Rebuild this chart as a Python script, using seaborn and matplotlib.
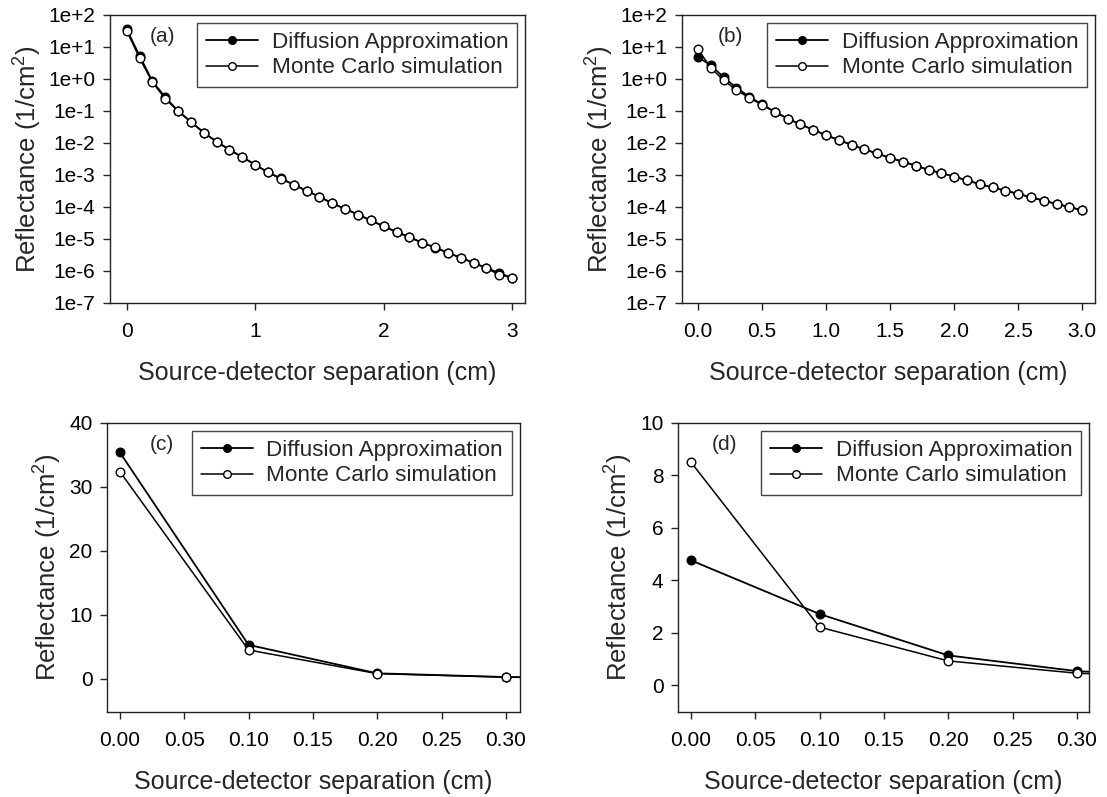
import numpy as np
import pandas as pd
import matplotlib
matplotlib.use("Agg")
import matplotlib.pyplot as plt
from matplotlib.ticker import FixedLocator, FixedFormatter, NullLocator
import seaborn as sns

# ---------------- data ----------------
sep = [round(0.1 * i, 1) for i in range(31)]  # source-detector separation (cm)

# Panel (a)/(c): tissue 1
da_1 = [35.4, 5.3, 0.85, 0.27, 0.10, 0.046, 0.021, 0.011, 0.0062, 0.0036,
        0.0021, 0.0012, 7.8e-4, 5.0e-4, 3.2e-4, 2.1e-4, 1.3e-4, 8.8e-5, 5.8e-5, 3.8e-5,
        2.5e-5, 1.65e-5, 1.15e-5, 7.6e-6, 5.4e-6, 3.7e-6, 2.6e-6, 1.8e-6, 1.25e-6, 8.6e-7,
        6.1e-7]
mc_1 = [32.4, 4.5, 0.80, 0.24, 0.10, 0.045, 0.021, 0.011, 0.0061, 0.0036,
        0.0021, 0.0012, 7.7e-4, 5.0e-4, 3.2e-4, 2.1e-4, 1.3e-4, 8.7e-5, 5.8e-5, 3.8e-5,
        2.5e-5, 1.66e-5, 1.15e-5, 7.6e-6, 5.5e-6, 3.7e-6, 2.6e-6, 1.78e-6, 1.23e-6, 7.6e-7,
        6.2e-7]

# Panel (b)/(d): tissue 2
da_2 = [4.76, 2.71, 1.13, 0.53, 0.28, 0.16, 0.094, 0.058, 0.038, 0.026,
        0.0174, 0.0124, 0.0087, 0.0063, 0.0047, 0.0034, 0.0026, 0.00196, 0.00144, 0.00115,
        8.9e-4, 6.8e-4, 5.2e-4, 4.1e-4, 3.2e-4, 2.6e-4, 2.0e-4, 1.58e-4, 1.24e-4, 1.0e-4,
        7.9e-5]
mc_2 = [8.51, 2.21, 0.92, 0.45, 0.26, 0.155, 0.093, 0.058, 0.038, 0.026,
        0.0174, 0.0124, 0.0087, 0.0063, 0.0047, 0.0034, 0.0026, 0.00196, 0.00144, 0.00115,
        8.9e-4, 6.8e-4, 5.2e-4, 4.1e-4, 3.2e-4, 2.6e-4, 2.0e-4, 1.58e-4, 1.24e-4, 1.0e-4,
        7.9e-5]

series_names = ["Diffusion Approximation", "Monte Carlo simulation"]
panel_tags = ["(a)", "(b)", "(c)", "(d)"]

log_ticks = [1e2, 1e1, 1e0, 1e-1, 1e-2, 1e-3, 1e-4, 1e-5, 1e-6, 1e-7]
log_tick_labels = ["1e+2", "1e+1", "1e+0", "1e-1", "1e-2", "1e-3", "1e-4", "1e-5", "1e-6", "1e-7"]
xticks_a = [0, 1, 2, 3]
xtick_labels_a = ["0", "1", "2", "3"]
xticks_b = [0.0, 0.5, 1.0, 1.5, 2.0, 2.5, 3.0]
xtick_labels_b = ["0.0", "0.5", "1.0", "1.5", "2.0", "2.5", "3.0"]
xticks_cd = [0.0, 0.05, 0.10, 0.15, 0.20, 0.25, 0.30]
xtick_labels_cd = ["0.00", "0.05", "0.10", "0.15", "0.20", "0.25", "0.30"]
yticks_c = [0, 10, 20, 30, 40]
yticks_d = [0, 2, 4, 6, 8, 10]

xlabel = "Source-detector separation (cm)"
ylabel = r"Reflectance (1/cm$^\mathregular{2}$)"

# ---------------- style ----------------
sns.set_theme(style="ticks")
plt.rcParams["font.family"] = ["Liberation Sans", "DejaVu Sans"]
plt.rcParams["mathtext.fontset"] = "custom"
plt.rcParams["mathtext.rm"] = "Liberation Sans"
plt.rcParams["axes.edgecolor"] = "#222222"
plt.rcParams["axes.linewidth"] = 1.0
plt.rcParams["xtick.color"] = "#222222"
plt.rcParams["ytick.color"] = "#222222"
plt.rcParams["xtick.labelcolor"] = "black"
plt.rcParams["ytick.labelcolor"] = "black"

FS_TICK = 15
FS_XLAB = 18
FS_YLAB = 18.5
FS_LEG = 16.2

fig = plt.figure(figsize=(11.07, 7.97), dpi=100)
W, H = 1107, 797


def make_ax(left, right, top, bottom):
    return fig.add_axes([left / W, 1 - bottom / H, (right - left) / W, (bottom - top) / H])


ax_a = make_ax(110, 525, 15, 303)
ax_b = make_ax(682, 1095, 15, 303)
ax_c = make_ax(107, 520, 423, 712)
ax_d = make_ax(678, 1089, 423, 712)


def draw(ax, da, mc):
    df = pd.DataFrame({"x": sep * 2, "y": list(da) + list(mc),
                       "series": [series_names[0]] * len(sep) + [series_names[1]] * len(sep)})
    sub = df[df.series == series_names[0]]
    sns.lineplot(data=sub, x="x", y="y", ax=ax, color="black", lw=1.3,
                 marker="o", markersize=6.2, markerfacecolor="black",
                 markeredgecolor="black", markeredgewidth=1.0,
                 label=series_names[0], estimator=None, sort=False)
    sub = df[df.series == series_names[1]]
    sns.lineplot(data=sub, x="x", y="y", ax=ax, color="black", lw=1.1,
                 marker="o", markersize=6.2, markerfacecolor="white",
                 markeredgecolor="black", markeredgewidth=1.0,
                 label=series_names[1], estimator=None, sort=False)


def finish(ax, tag, xt, xtl, tagx):
    ax.set_xticks(xt)
    ax.set_xticklabels(xtl)
    ax.xaxis.set_minor_locator(NullLocator())
    ax.yaxis.set_minor_locator(NullLocator())
    ax.tick_params(axis="both", direction="out", length=5, width=1.0,
                   labelsize=FS_TICK, top=False, right=False)
    ax.tick_params(axis="x", pad=8.5)
    ax.tick_params(axis="y", pad=5.5)
    ax.set_xlabel(xlabel, fontsize=FS_XLAB)
    ax.xaxis.set_label_coords(0.5, -0.2)
    ax.set_ylabel(ylabel, fontsize=FS_YLAB, labelpad=4)
    for s in ax.spines.values():
        s.set_visible(True)
    ax.text(tagx, 0.925, tag, transform=ax.transAxes, fontsize=FS_TICK, va="center", ha="left")
    leg = ax.legend(loc="upper right", fontsize=FS_LEG, frameon=True, fancybox=False,
                    edgecolor="#444444", framealpha=1, borderaxespad=0.35,
                    handlelength=2.3, handletextpad=0.6, labelspacing=0.2,
                    borderpad=0.4, numpoints=1)
    leg.get_frame().set_linewidth(1.0)
    for h in leg.legend_handles:
        h.set_markersize(5.5)


# (a)
draw(ax_a, da_1, mc_1)
ax_a.set_yscale("log")
ax_a.set_ylim(1e-7, 1e2)
ax_a.set_xlim(-0.13, 3.1)
ax_a.yaxis.set_major_locator(FixedLocator(log_ticks))
ax_a.yaxis.set_major_formatter(FixedFormatter(log_tick_labels))
finish(ax_a, panel_tags[0], xticks_a, xtick_labels_a, 0.095)

# (b)
draw(ax_b, da_2, mc_2)
ax_b.set_yscale("log")
ax_b.set_ylim(1e-7, 1e2)
ax_b.set_xlim(-0.125, 3.1)
ax_b.yaxis.set_major_locator(FixedLocator(log_ticks))
ax_b.yaxis.set_major_formatter(FixedFormatter(log_tick_labels))
finish(ax_b, panel_tags[1], xticks_b, xtick_labels_b, 0.087)

# (c)
draw(ax_c, da_1, mc_1)
ax_c.set_ylim(-5.2, 40)
ax_c.set_xlim(-0.010, 0.311)
ax_c.set_yticks(yticks_c)
ax_c.set_yticklabels([str(v) for v in yticks_c])
finish(ax_c, panel_tags[2], xticks_cd, xtick_labels_cd, 0.104)

# (d)
draw(ax_d, da_2, mc_2)
ax_d.set_ylim(-1.03, 10)
ax_d.set_xlim(-0.010, 0.3094)
ax_d.set_yticks(yticks_d)
ax_d.set_yticklabels([str(v) for v in yticks_d])
finish(ax_d, panel_tags[3], xticks_cd, xtick_labels_cd, 0.083)

fig.savefig("out.png", dpi=100, facecolor="white")
